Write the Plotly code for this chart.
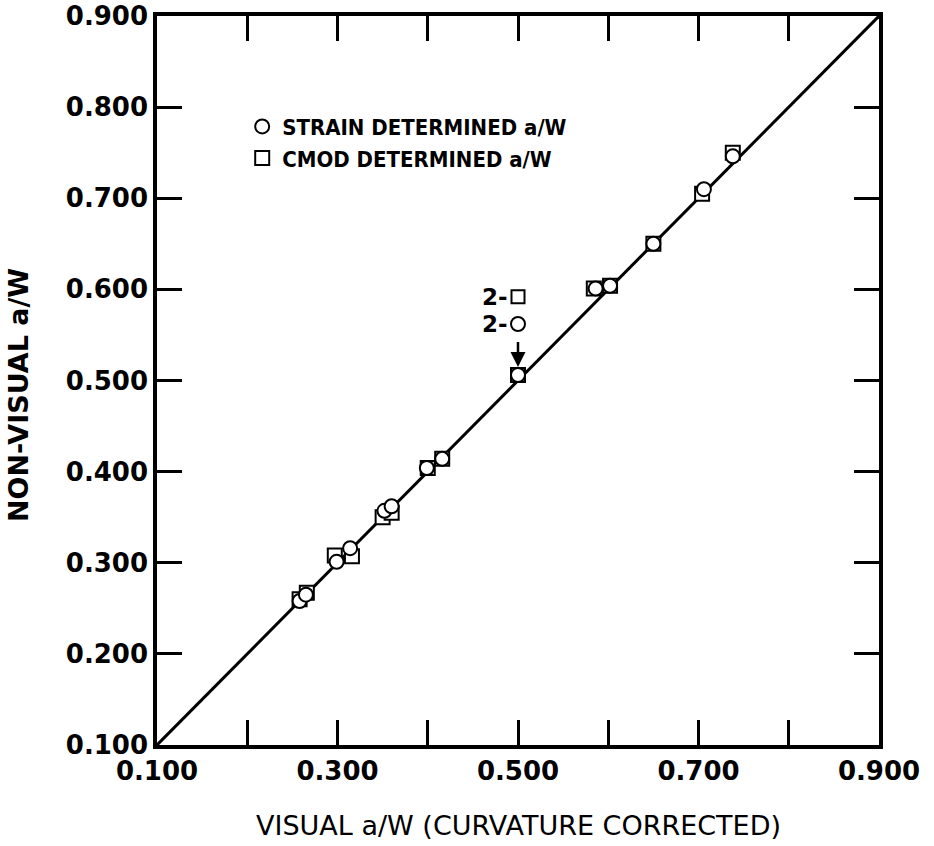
import plotly.graph_objects as go

# Crack length ratio: visual (curvature corrected) vs. non-visual estimates
strain_visual = [0.258, 0.265, 0.299, 0.314, 0.352, 0.360, 0.399, 0.416, 0.500,
                 0.586, 0.602, 0.650, 0.706, 0.738]
strain_nonvisual = [0.258, 0.265, 0.301, 0.316, 0.357, 0.362, 0.404, 0.414, 0.506,
                    0.601, 0.604, 0.650, 0.710, 0.746]

cmod_visual = [0.258, 0.266, 0.297, 0.316, 0.350, 0.360, 0.400, 0.416, 0.500,
               0.584, 0.602, 0.650, 0.704, 0.738]
cmod_nonvisual = [0.260, 0.267, 0.308, 0.307, 0.350, 0.355, 0.404, 0.414, 0.506,
                  0.601, 0.604, 0.650, 0.705, 0.750]

# 1:1 reference line
line_x = [0.1, 0.9]
line_y = [0.1, 0.9]

tick_vals = [0.1, 0.2, 0.3, 0.4, 0.5, 0.6, 0.7, 0.8, 0.9]
x_tick_text = ["0.100", "", "0.300", "", "0.500", "", "0.700", "", "0.900"]
y_tick_text = ["0.100", "0.200", "0.300", "0.400", "0.500", "0.600", "0.700", "0.800", "0.900"]

x_title = "VISUAL a/W (CURVATURE CORRECTED)"
y_title = "NON-VISUAL a/W"

# Specimen-2 callout
callout_x = 0.5
callout_square_y = 0.592
callout_circle_y = 0.562
callout_target_y = 0.506

FONT = "DejaVu Sans"
COND = "DejaVu Sans Condensed, DejaVu Sans"
BLACK = "#000000"

fig = go.Figure()

fig.add_trace(go.Scatter(
    x=line_x, y=line_y, mode="lines",
    line=dict(color=BLACK, width=3), showlegend=False, hoverinfo="skip",
))

fig.add_trace(go.Scatter(
    x=cmod_visual, y=cmod_nonvisual, mode="markers",
    name="CMOD DETERMINED a/W",
    marker=dict(symbol="square", size=14, color="white", line=dict(color=BLACK, width=2)),
    legendrank=2,
))

fig.add_trace(go.Scatter(
    x=strain_visual, y=strain_nonvisual, mode="markers",
    name="STRAIN DETERMINED a/W",
    marker=dict(symbol="circle", size=14, color="white", line=dict(color=BLACK, width=2)),
    legendrank=1,
))

# Callout symbols for specimen 2
fig.add_trace(go.Scatter(
    x=[callout_x], y=[callout_square_y], mode="markers",
    marker=dict(symbol="square", size=13, color="white", line=dict(color=BLACK, width=2)),
    showlegend=False, hoverinfo="skip",
))
fig.add_trace(go.Scatter(
    x=[callout_x], y=[callout_circle_y], mode="markers",
    marker=dict(symbol="circle", size=14, color="white", line=dict(color=BLACK, width=2)),
    showlegend=False, hoverinfo="skip",
))

for yv in (callout_square_y, callout_circle_y):
    fig.add_annotation(
        x=callout_x, y=yv, xref="x", yref="y", text="<b>2-</b>", showarrow=False,
        xanchor="right", xshift=-8, font=dict(family=FONT, size=23, color=BLACK),
    )

fig.add_annotation(
    x=callout_x, y=callout_target_y, xref="x", yref="y",
    ax=callout_x, ay=callout_circle_y - 0.018, axref="x", ayref="y",
    showarrow=True, arrowhead=2, arrowsize=1.2, arrowwidth=2.5, arrowcolor=BLACK,
    standoff=8, text="",
)

# Axis titles as free-standing text so the plot box keeps its size
fig.add_annotation(
    xref="paper", yref="paper", x=0, y=0.48, xshift=-139,
    text=f"<b>{y_title}</b>", textangle=-90, showarrow=False,
    xanchor="center", yanchor="middle",
    font=dict(family=FONT, size=27, color=BLACK),
)
fig.add_annotation(
    xref="paper", yref="paper", x=0.5, y=0, yshift=-80,
    text=x_title, showarrow=False,
    xanchor="center", yanchor="middle",
    font=dict(family=FONT, size=27, color=BLACK),
)

axis_common = dict(
    range=[0.1, 0.9], tickmode="array", tickvals=tick_vals,
    ticks="inside", ticklen=25, tickwidth=3, tickcolor=BLACK,
    showline=True, linewidth=3.5, linecolor=BLACK, mirror="ticks",
    showgrid=False, zeroline=False, automargin=False,
    tickfont=dict(family=FONT, size=26, color=BLACK, weight="bold"),
)

fig.update_xaxes(**axis_common, ticktext=x_tick_text)
fig.update_yaxes(**axis_common, ticktext=y_tick_text)

fig.update_layout(
    width=934, height=846,
    margin=dict(l=157, r=55, t=16, b=101),
    paper_bgcolor="white", plot_bgcolor="white",
    showlegend=True,
    legend=dict(
        x=0.118, y=0.877, xanchor="left", yanchor="top",
        bgcolor="rgba(0,0,0,0)", borderwidth=0,
        font=dict(family=COND, size=22, color=BLACK, weight="bold"),
        itemwidth=30, tracegroupgap=0,
    ),
)

fig.write_html("out.html")
